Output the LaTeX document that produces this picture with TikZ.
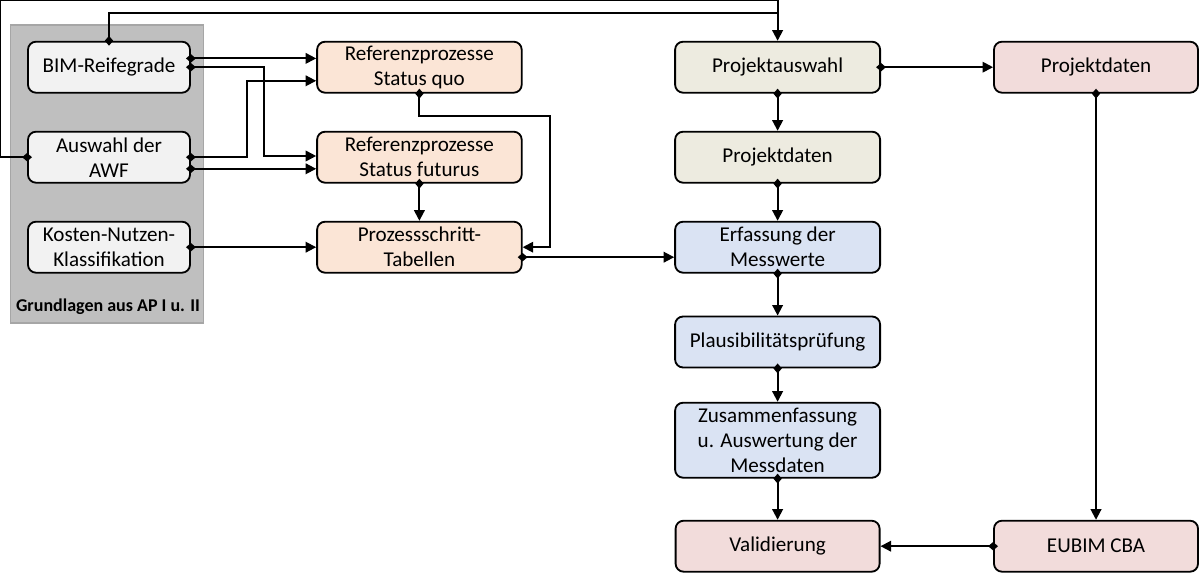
\documentclass[tikz,border=0pt]{standalone}
\usepackage{fontspec}
\setmainfont{Carlito}
\usetikzlibrary{arrows.meta}
\definecolor{basefill}{HTML}{F2F2F2}
\definecolor{procfill}{HTML}{FBE5D6}
\definecolor{projfill}{HTML}{EDEBE0}
\definecolor{measfill}{HTML}{DAE3F3}
\definecolor{evalfill}{HTML}{F2DCDB}
\tikzstyle{box} = [rectangle, rounded corners=0.2cm, minimum height=1.275cm, inner sep=1pt, align=center, draw=black, line width=1.3pt, font=\fontsize{15}{17.8}\selectfont]
\tikzstyle{base} = [box, minimum width=4.05cm, fill=basefill]
\tikzstyle{proc} = [box, minimum width=5.115cm, fill=procfill]
\tikzstyle{proj} = [box, minimum width=5.125cm, fill=projfill]
\tikzstyle{meas} = [box, minimum width=5.125cm, fill=measfill]
\tikzstyle{eval} = [box, minimum width=5.1cm, fill=evalfill]
\tikzstyle{conn} = [line width=1.3pt, shorten <=-3.5pt, {Diamond[length=7pt,width=6pt]}-{Triangle[length=7.5pt,width=7.5pt]}]
\tikzstyle{tap} = [line width=1.3pt, shorten <=-3.5pt, {Diamond[length=7pt,width=6pt]}-]

\begin{document}
\begin{tikzpicture}[node distance=2.25cm]
    \useasboundingbox (0,0) rectangle (30,-14.325);
    % Grundlagen
    \draw[fill=black!25, draw=black!35, line width=0.8pt] (0.2575,-0.625) rectangle (5.09,-8.075);
    \node (grund) at (2.7,-7.675) {\fontsize{12.8}{14}\selectfont\bfseries Grundlagen aus AP I u. II};

    \node (bim) [base] at (2.725,-1.68) {BIM-Reifegrade};
    \node (awf) [base, below of=bim] {Auswahl der\\AWF};
    \node (kn) [base, below of=awf] {Kosten-Nutzen-\\Klassifikation};

    \node (sq) [proc, right of=bim, xshift=5.51cm] {Referenzprozesse\\Status quo};
    \node (sf) [proc, below of=sq] {Referenzprozesse\\Status futurus};
    \node (pt) [proc, below of=sf] {Prozessschritt-\\Tabellen};

    \node (pa) [proj, right of=sq, xshift=6.705cm] {Projektauswahl};
    \node (pd) [proj, below of=pa] {Projektdaten};
    \node (erf) [meas, below of=pd] {Erfassung der\\Messwerte};
    \node (plaus) [meas, below of=erf, yshift=-0.12cm] {Plausibilitätsprüfung};
    \node (zus) [meas, below of=plaus, yshift=-0.205cm, minimum height=1.875cm] {Zusammenfassung\\u. Auswertung der\\Messdaten};
    \node (val) [eval, below of=zus, yshift=-0.4cm] {Validierung};

    \node (pdx) [eval, right of=pa, xshift=5.71cm] {Projektdaten};
    \node (eu) [eval, right of=val, xshift=5.71cm] {EUBIM CBA};

    % Verbindungen
    \draw[conn] (awf.west) -- ++(-0.675,0) |- ([yshift=1.025cm]pa.north) -- (pa.north);
    \draw[tap] (bim.north) |- ([yshift=0.7cm]pa.north);
    \draw[conn] ([yshift=0.22cm]bim.east) -- ([yshift=0.22cm]sq.west);
    \draw[conn] (bim.east) -- ++(1.83,0) |- ([yshift=0.03cm]sf.west);
    \draw[conn] (awf.east) -- ++(1.4,0) |- ([yshift=-0.34cm]sq.west);
    \draw[conn] ([yshift=-0.29cm]awf.east) -- ([yshift=-0.29cm]sf.west);
    \draw[conn] (kn.east) -- (pt.west);
    \draw[conn] (sq.south) -- ++(0,-0.56) -| ([xshift=0.685cm]pt.east) -- (pt.east);
    \draw[conn] (sf.south) -- (pt.north);
    \draw[conn] ([yshift=-0.25cm]pt.east) -- ([yshift=-0.25cm]erf.west);
    \draw[conn] (pa.east) -- (pdx.west);
    \draw[conn] (pa.south) -- (pd.north);
    \draw[conn] (pd.south) -- (erf.north);
    \draw[conn] (erf.south) -- (plaus.north);
    \draw[conn] (plaus.south) -- (zus.north);
    \draw[conn] (zus.south) -- (val.north);
    \draw[conn] (pdx.south) -- (eu.north);
    \draw[conn] (eu.west) -- (val.east);
\end{tikzpicture}
\end{document}
